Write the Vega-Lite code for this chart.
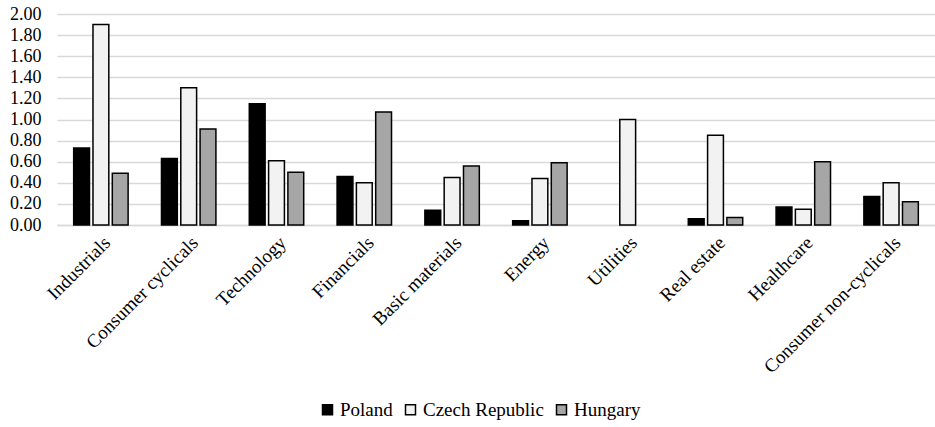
{
  "$schema": "https://vega.github.io/schema/vega-lite/v6.json",
  "autosize": {"type": "none"},
  "width": 878,
  "height": 211,
  "padding": {"left": 57, "top": 14, "right": 0, "bottom": 202},
  "background": "white",
  "config": {
    "font": "Liberation Serif",
    "axis": {"labelFont": "Liberation Serif"},
    "legend": {"labelFont": "Liberation Serif"},
    "view": {"stroke": null}
  },
  "data": {
    "values": [
      {"sector": "Industrials", "country": "Poland", "value": 0.73},
      {"sector": "Industrials", "country": "Czech Republic", "value": 1.90},
      {"sector": "Industrials", "country": "Hungary", "value": 0.49},
      {"sector": "Consumer cyclicals", "country": "Poland", "value": 0.63},
      {"sector": "Consumer cyclicals", "country": "Czech Republic", "value": 1.30},
      {"sector": "Consumer cyclicals", "country": "Hungary", "value": 0.91},
      {"sector": "Technology", "country": "Poland", "value": 1.15},
      {"sector": "Technology", "country": "Czech Republic", "value": 0.61},
      {"sector": "Technology", "country": "Hungary", "value": 0.50},
      {"sector": "Financials", "country": "Poland", "value": 0.46},
      {"sector": "Financials", "country": "Czech Republic", "value": 0.40},
      {"sector": "Financials", "country": "Hungary", "value": 1.07},
      {"sector": "Basic materials", "country": "Poland", "value": 0.14},
      {"sector": "Basic materials", "country": "Czech Republic", "value": 0.45},
      {"sector": "Basic materials", "country": "Hungary", "value": 0.56},
      {"sector": "Energy", "country": "Poland", "value": 0.04},
      {"sector": "Energy", "country": "Czech Republic", "value": 0.44},
      {"sector": "Energy", "country": "Hungary", "value": 0.59},
      {"sector": "Utilities", "country": "Poland", "value": 0},
      {"sector": "Utilities", "country": "Czech Republic", "value": 1.00},
      {"sector": "Utilities", "country": "Hungary", "value": 0},
      {"sector": "Real estate", "country": "Poland", "value": 0.06},
      {"sector": "Real estate", "country": "Czech Republic", "value": 0.85},
      {"sector": "Real estate", "country": "Hungary", "value": 0.07},
      {"sector": "Healthcare", "country": "Poland", "value": 0.17},
      {"sector": "Healthcare", "country": "Czech Republic", "value": 0.15},
      {"sector": "Healthcare", "country": "Hungary", "value": 0.60},
      {"sector": "Consumer non-cyclicals", "country": "Poland", "value": 0.27},
      {"sector": "Consumer non-cyclicals", "country": "Czech Republic", "value": 0.40},
      {"sector": "Consumer non-cyclicals", "country": "Hungary", "value": 0.22}
    ]
  },
  "mark": {"type": "bar", "stroke": "black", "strokeWidth": 1.5},
  "encoding": {
    "x": {
      "field": "sector",
      "type": "nominal",
      "sort": null,
      "scale": {"paddingInner": 0.38, "paddingOuter": 0.19},
      "axis": {
        "title": null,
        "labelAngle": -45,
        "labelFontSize": 19,
        "labelLimit": 0,
        "labelColor": "black",
        "ticks": false,
        "labelPadding": 8,
        "labelDx": -6,
        "labelDy": 4,
        "domainColor": "#d9d9d9",
        "domainWidth": 1.5
      }
    },
    "xOffset": {
      "field": "country",
      "type": "nominal",
      "sort": ["Poland", "Czech Republic", "Hungary"],
      "scale": {"paddingInner": 0.18}
    },
    "y": {
      "field": "value",
      "type": "quantitative",
      "scale": {"domain": [0, 2], "nice": false},
      "axis": {
        "title": null,
        "values": [0, 0.2, 0.4, 0.6, 0.8, 1.0, 1.2, 1.4, 1.6, 1.8, 2.0],
        "format": ".2f",
        "labelFontSize": 18,
        "labelColor": "black",
        "ticks": false,
        "domain": false,
        "labelPadding": 16,
        "gridColor": "#d9d9d9",
        "gridWidth": 1.5
      }
    },
    "fill": {
      "field": "country",
      "type": "nominal",
      "sort": ["Poland", "Czech Republic", "Hungary"],
      "scale": {"domain": ["Poland", "Czech Republic", "Hungary"], "range": ["#000000", "#f2f2f2", "#a6a6a6"]},
      "legend": {
        "title": null,
        "orient": "none",
        "legendX": 261,
        "legendY": 386,
        "padding": 0,
        "direction": "horizontal",
        "symbolType": "square",
        "symbolSize": 100,
        "symbolStrokeColor": "black",
        "symbolStrokeWidth": 1.5,
        "labelFontSize": 19,
        "labelColor": "black",
        "columnPadding": 8,
        "labelOffset": 3
      }
    },
    "strokeOpacity": {
      "condition": {"test": "datum.value === 0", "value": 0},
      "value": 1
    }
  }
}
